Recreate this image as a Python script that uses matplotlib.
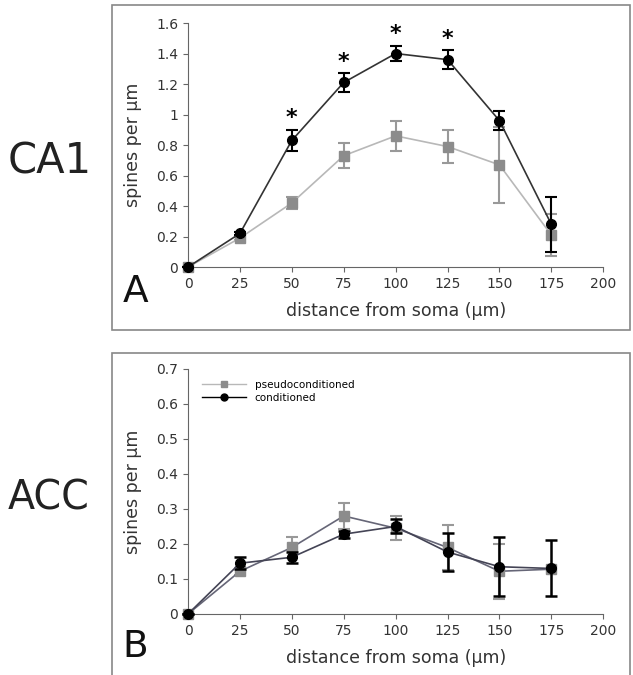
import matplotlib.pyplot as plt
import matplotlib.patches as mpatches
from matplotlib.ticker import FuncFormatter

dist = [0, 25, 50, 75, 100, 125, 150, 175]

# panel A (CA1)
ca1_cond = [0.0, 0.22, 0.83, 1.21, 1.40, 1.36, 0.96, 0.28]
ca1_cond_err = [0.0, 0.01, 0.07, 0.06, 0.05, 0.06, 0.06, 0.18]
ca1_pseudo = [0.0, 0.19, 0.42, 0.73, 0.86, 0.79, 0.67, 0.21]
ca1_pseudo_err = [0.0, 0.01, 0.04, 0.08, 0.10, 0.11, 0.25, 0.14]
star_x = [50, 75, 100, 125]

# panel B (ACC)
acc_cond = [0.0, 0.145, 0.162, 0.228, 0.25, 0.177, 0.135, 0.13]
acc_cond_err = [0.0, 0.017, 0.015, 0.01, 0.02, 0.055, 0.085, 0.08]
acc_pseudo = [0.0, 0.122, 0.19, 0.28, 0.245, 0.19, 0.122, 0.128]
acc_pseudo_err = [0.0, 0.01, 0.03, 0.037, 0.035, 0.063, 0.078, 0.0]

plt.rcParams['font.family'] = 'DejaVu Sans'
fig = plt.figure(figsize=(6.33, 6.75), dpi=100)

# panel frames (B is open at the bottom)
for y0, h in [(1 - 330/675, 325/675), (-0.05, 322/675 + 0.05)]:
    fig.patches.append(mpatches.Rectangle((112/633, y0), 518/633, h, transform=fig.transFigure,
                                          fill=False, edgecolor='#888888', lw=1.2))

axA = fig.add_axes([0.297, 0.6044, 0.656, 0.3615])
axB = fig.add_axes([0.297, 0.0904, 0.656, 0.363])

def style(ax, ymax, step):
    for s in ['top', 'right']:
        ax.spines[s].set_visible(False)
    for s in ['left', 'bottom']:
        ax.spines[s].set_color('#666666')
    ax.set_xlim(0, 200)
    ax.set_ylim(0, ymax)
    ax.set_xticks(range(0, 201, 25))
    ax.set_yticks([round(i * step, 2) for i in range(int(round(ymax / step)) + 1)])
    ax.yaxis.set_major_formatter(FuncFormatter(lambda v, p: '%g' % v))
    ax.tick_params(direction='out', color='#666666', labelsize=10, labelcolor='#333333')
    ax.set_xlabel('distance from soma (µm)', fontsize=12.5, color='#333333', labelpad=8)
    ax.set_ylabel('spines per µm', fontsize=12.5, color='#333333', labelpad=10)

style(axA, 1.6, 0.2)
style(axB, 0.7, 0.1)

axA.errorbar(dist, ca1_pseudo, yerr=ca1_pseudo_err, color='#b8b8b8', ecolor='#999999',
             marker='s', ms=6.5, mfc='#8c8c8c', mec='#8c8c8c', lw=1.2, capsize=4, elinewidth=1.5,
             capthick=1.5, clip_on=False, zorder=3)
axA.errorbar(dist, ca1_cond, yerr=ca1_cond_err, color='#333333', ecolor='black',
             marker='o', ms=7, mfc='black', mec='black', lw=1.2, capsize=4, elinewidth=1.5,
             capthick=1.5, clip_on=False, zorder=4)
for x in star_x:
    i = dist.index(x)
    axA.text(x, ca1_cond[i] + ca1_cond_err[i] + 0.01, '*', ha='center', va='bottom',
             fontsize=16, fontweight='bold')

axB.errorbar(dist, acc_pseudo, yerr=acc_pseudo_err, color='#666677', ecolor='#999999',
             marker='s', ms=6.5, mfc='#8c8c8c', mec='#8c8c8c', lw=1.2, capsize=4, elinewidth=1.5,
             capthick=1.5, clip_on=False, zorder=3, label='pseudoconditioned')
axB.errorbar(dist, acc_cond, yerr=acc_cond_err, color='#444455', ecolor='black',
             marker='o', ms=7, mfc='black', mec='black', lw=1.2, capsize=4, elinewidth=1.8,
             capthick=1.8, clip_on=False, zorder=4, label='conditioned')
h, l = axB.get_legend_handles_labels()
leg_handles = [plt.Line2D([], [], color='#b8b8b8', marker='s', ms=5, mfc='#8c8c8c', mec='#8c8c8c', lw=1),
               plt.Line2D([], [], color='black', marker='o', ms=5, mfc='black', mec='black', lw=1)]
axB.legend(leg_handles, l, loc='upper left', bbox_to_anchor=(0.01, 0.995), frameon=False,
           fontsize=7.5, handlelength=4.3, labelspacing=0.3)

fig.text(50/633, 1 - 162/675, 'CA1', fontsize=30, ha='center', va='center', color='#222222')
fig.text(49/633, 1 - 499/675, 'ACC', fontsize=28.5, ha='center', va='center', color='#222222')
fig.text(136/633, 1 - 292/675, 'A', fontsize=27, ha='center', va='center', color='#111111')
fig.text(135/633, 1 - 647/675, 'B', fontsize=27, ha='center', va='center', color='#111111')

fig.savefig('out.png', dpi=100)
